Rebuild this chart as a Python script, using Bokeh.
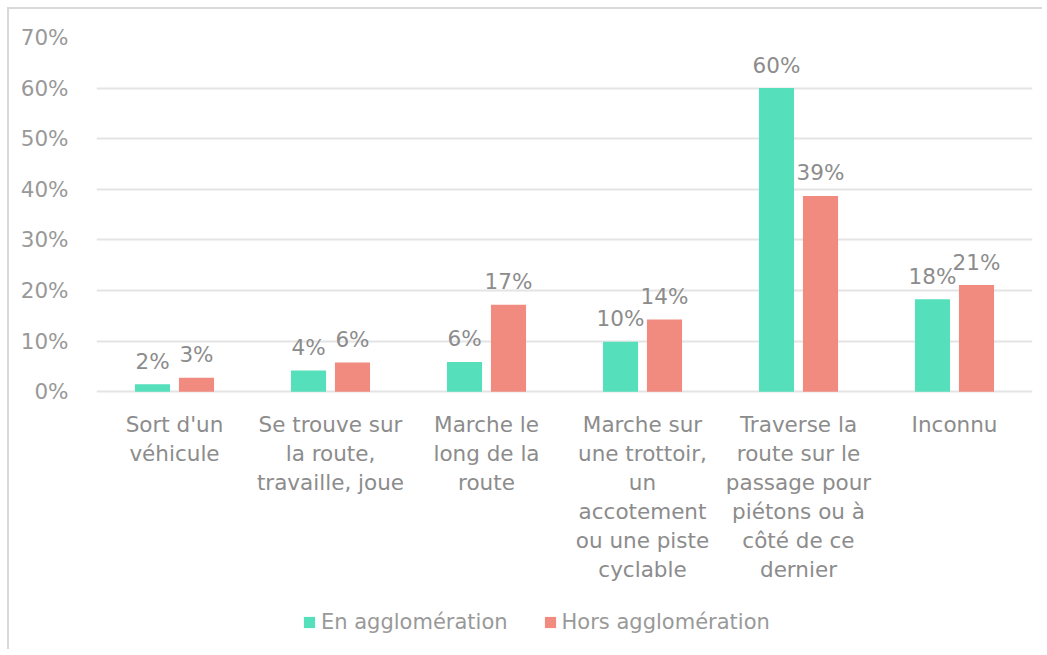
from bokeh.plotting import figure
from bokeh.models import ColumnDataSource, FactorRange, Legend, LegendItem, PrintfTickFormatter, FixedTicker
from bokeh.transform import dodge
from bokeh.embed import file_html
from bokeh.resources import INLINE

categories = ["Sort d'un\nvéhicule", "Se trouve sur\nla route,\ntravaille, joue", "Marche le\nlong de la\nroute",
              "Marche sur\nune trottoir,\nun\naccotement\nou une piste\ncyclable",
              "Traverse la\nroute sur le\npassage pour\npiétons ou à\ncôté de ce\ndernier", "Inconnu"]
series_names = ["En agglomération", "Hors agglomération"]
en_agglo = [1.5, 4.2, 5.9, 9.9, 60.0, 18.3]
hors_agglo = [2.8, 5.8, 17.2, 14.3, 38.7, 21.1]
en_labels = ["2%", "4%", "6%", "10%", "60%", "18%"]
hors_labels = ["3%", "6%", "17%", "14%", "39%", "21%"]
y_ticks = [0, 10, 20, 30, 40, 50, 60, 70]

FONT = "DejaVu Sans"
FS = "21.5px"
GREEN = "#55dfba"
SALMON = "#f28b7f"
TXT = "#8c8c8c"
TXT_LIGHT = "#999999"

src = ColumnDataSource(dict(cat=categories, en=en_agglo, hors=hors_agglo, enl=en_labels, horsl=hors_labels,
                            base=[0] * len(categories)))

# frame spans the whole lower area; y below 0 holds the category labels and legend
p = figure(x_range=FactorRange(*categories), y_range=(-51.3, 70), width=1035, height=642,
           output_backend="svg", toolbar_location=None, margin=(7, 0, 0, 7),
           min_border_left=87, min_border_top=28, min_border_right=12, min_border_bottom=0)
p.styles = {"border-left": "2px solid #d9d9d9", "border-top": "2px solid #d9d9d9"}
p.outline_line_color = None
p.x_range.range_padding = 0
p.x_range.group_padding = 0

r1 = p.vbar(x=dodge("cat", -0.141, range=p.x_range), top="en", width=0.225, source=src,
            fill_color=GREEN, line_color=None)
r2 = p.vbar(x=dodge("cat", 0.141, range=p.x_range), top="hors", width=0.225, source=src,
            fill_color=SALMON, line_color=None)

p.text(x=dodge("cat", -0.141, range=p.x_range), y="en", text="enl", source=src,
       text_align="center", text_baseline="alphabetic", y_offset=-23,
       text_font={"value": FONT}, text_font_size=FS, text_color=TXT)
p.text(x=dodge("cat", 0.141, range=p.x_range), y="hors", text="horsl", source=src,
       text_align="center", text_baseline="alphabetic", y_offset=-23,
       text_font={"value": FONT}, text_font_size=FS, text_color=TXT)

# category labels under the baseline
p.text(x="cat", y="base", text="cat", source=src, text_align="center", text_baseline="top",
       y_offset=20, text_line_height=1.16,
       text_font={"value": FONT}, text_font_size=FS, text_color=TXT)

p.xgrid.grid_line_color = None
p.ygrid.grid_line_color = "#e4e4e4"
p.ygrid.grid_line_width = 2
p.ygrid.ticker = FixedTicker(ticks=y_ticks)

p.xaxis.visible = False
p.yaxis.ticker = FixedTicker(ticks=y_ticks)
p.yaxis.formatter = PrintfTickFormatter(format="%d%%")
ax = p.yaxis[0]
ax.axis_line_color = None
ax.major_tick_line_color = None
ax.minor_tick_line_color = None
ax.major_label_text_font = FONT
ax.major_label_text_font_size = FS
ax.major_label_text_color = TXT_LIGHT
ax.major_label_standoff = 22

legend = Legend(items=[LegendItem(label=series_names[0], renderers=[r1]),
                       LegendItem(label=series_names[1], renderers=[r2])],
                orientation="horizontal", location=(206, 17),
                label_text_font=FONT, label_text_font_size="21px", label_text_color=TXT_LIGHT,
                glyph_width=14, glyph_height=14, spacing=35, label_standoff=5,
                border_line_color=None, background_fill_alpha=0, margin=0, padding=4)
p.add_layout(legend, "center")

open("out.html", "w").write(file_html(p, INLINE))
